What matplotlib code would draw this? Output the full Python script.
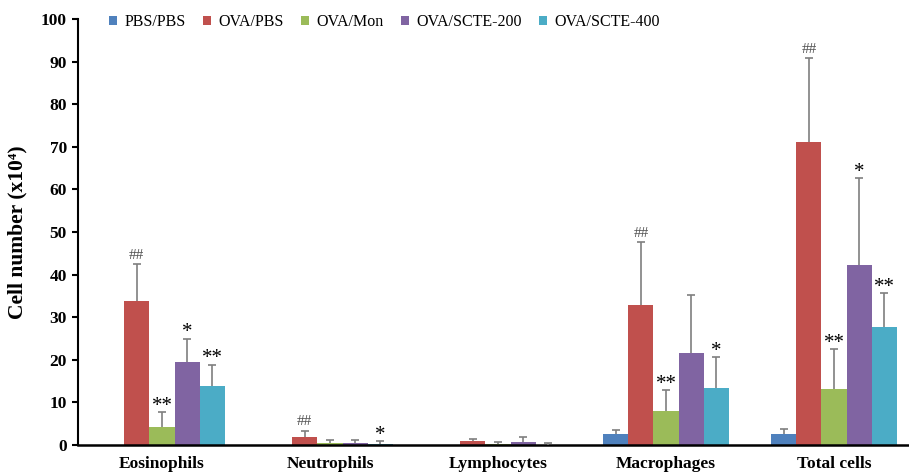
import numpy as np
import matplotlib
matplotlib.use("Agg")
from matplotlib import pyplot as plt

categories = ["Eosinophils", "Neutrophils", "Lymphocytes", "Macrophages", "Total cells"]
groups = ["PBS/PBS", "OVA/PBS", "OVA/Mon", "OVA/SCTE-200", "OVA/SCTE-400"]
colors = ["#4F81BD", "#C0504D", "#9BBB59", "#8064A2", "#4BACC6"]

# mean values per group (x10^4 cells)
pbs_pbs = [0.0, 0.0, 0.0, 2.6, 2.6]
ova_pbs = [33.8, 1.8, 0.9, 32.9, 71.2]
ova_mon = [4.2, 0.5, 0.3, 8.0, 13.1]
ova_scte200 = [19.4, 0.4, 0.7, 21.7, 42.3]
ova_scte400 = [13.8, 0.3, 0.1, 13.3, 27.6]

# top of the error bars
pbs_pbs_err = [0.0, 0.0, 0.0, 3.5, 3.7]
ova_pbs_err = [42.4, 3.4, 1.5, 47.6, 90.8]
ova_mon_err = [7.8, 1.3, 0.8, 12.9, 22.5]
ova_scte200_err = [25.0, 1.3, 1.8, 35.2, 62.7]
ova_scte400_err = [18.9, 0.9, 0.4, 20.7, 35.6]

# significance marks
ova_pbs_marks = ["##", "##", "", "##", "##"]
ova_mon_marks = ["**", "", "", "**", "**"]
ova_scte200_marks = ["*", "", "", "", "*"]
ova_scte400_marks = ["**", "*", "", "*", "**"]

means = [pbs_pbs, ova_pbs, ova_mon, ova_scte200, ova_scte400]
tops = [pbs_pbs_err, ova_pbs_err, ova_mon_err, ova_scte200_err, ova_scte400_err]
marks = [[""] * 5, ova_pbs_marks, ova_mon_marks, ova_scte200_marks, ova_scte400_marks]

plt.rcParams['font.family'] = ['Liberation Serif', 'DejaVu Serif']

fig = plt.figure(figsize=(9.09, 4.76), dpi=100)
ax = fig.add_axes([0.0858, 0.065, 0.9142, 0.895])

x = np.arange(len(categories))
w = 0.15
for i in range(5):
    pos = x + (i - 2) * w
    vals = np.array(means[i])
    upper = np.array(tops[i]) - vals
    ax.bar(pos, vals, w, color=colors[i], label=groups[i], zorder=2)
    keep = np.array(tops[i]) > 0
    eb = ax.errorbar(pos[keep], vals[keep], yerr=[np.zeros(keep.sum()), upper[keep]],
                     fmt="none", ecolor="#7f7f7f", elinewidth=1.2, capsize=3,
                     capthick=1.2, zorder=3)
    eb[1][0].set_visible(False)  # no cap at the bar top
    for j in range(5):
        m = marks[i][j]
        if not m:
            continue
        if m == "##":
            ax.text(pos[j], tops[i][j] + 0.6, m, ha="center", va="bottom",
                    fontsize=11, color="#505050")
        else:
            ax.text(pos[j], tops[i][j] - 0.9, m, ha="center", va="bottom",
                    fontsize=15, color="black")

ax.set_xlim(-0.5, 4.446)
ax.set_ylim(0, 100)
ax.set_yticks(np.arange(0, 101, 10))
ax.set_xticks(x)
ax.set_xticklabels(categories, fontsize=12.5, fontweight="bold")
for t in ax.get_yticklabels():
    t.set_fontsize(12.5)
    t.set_fontweight("bold")
ax.tick_params(axis="x", length=0, pad=8)
ax.tick_params(axis="y", length=4, width=1.5, direction="out", pad=4)
ax.spines["top"].set_visible(False)
ax.spines["right"].set_visible(False)
ax.spines["left"].set_linewidth(1.5)
ax.spines["bottom"].set_linewidth(1.8)
ax.set_ylabel("Cell number (x10⁴)", fontsize=15.5, fontweight="bold", labelpad=10)

ax.legend(loc="upper left", bbox_to_anchor=(0.02, 1.045), ncol=5, frameon=False,
          fontsize=11.5, handlelength=0.5, handleheight=0.5, handletextpad=0.45,
          columnspacing=1.1)

plt.savefig("out.png", dpi=100)
